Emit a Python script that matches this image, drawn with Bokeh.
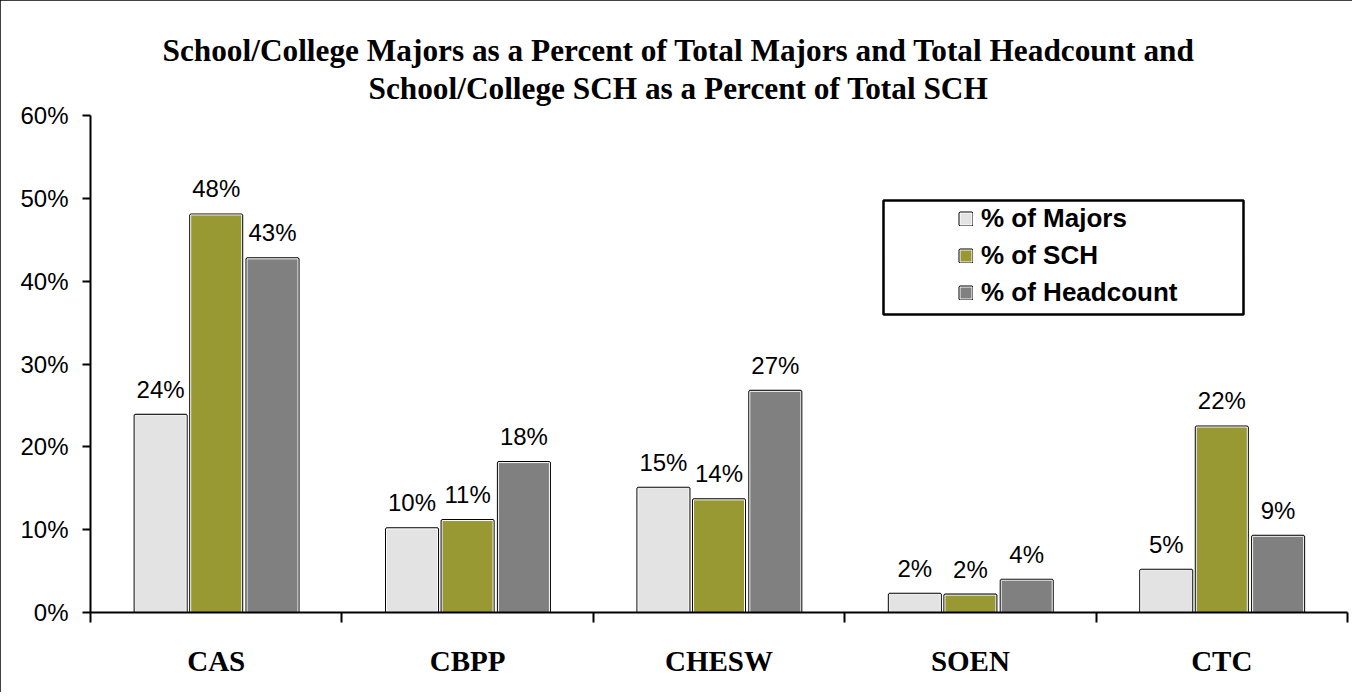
from bokeh.plotting import figure
from bokeh.models import (Range1d, FixedTicker, PrintfTickFormatter, Legend, LegendItem,
                          ColumnDataSource, Title, LinearAxis)
from bokeh.core.properties import value
from bokeh.embed import file_html
from bokeh.resources import INLINE

categories = ["CAS", "CBPP", "CHESW", "SOEN", "CTC"]
majors = [23.8, 10.1, 15.0, 2.2, 5.1]
sch = [48.0, 11.1, 13.6, 2.1, 22.4]
headcount = [42.7, 18.1, 26.7, 3.9, 9.2]
series_names = ["% of Majors", "% of SCH", "% of Headcount"]
series_colors = ["#E3E3E3", "#999933", "#808080"]
y_ticks = [0, 10, 20, 30, 40, 50, 60]
title_lines = ["School/College Majors as a Percent of Total Majors and Total Headcount and",
               "School/College SCH as a Percent of Total SCH"]

W, H = 1352, 692
FL, FT, FR, FB = 90, 115, 1347, 612          # frame edges in pixels
fw, fh = FR - FL, FB - FT

p = figure(width=W, height=H, output_backend="svg", toolbar_location=None,
           x_range=Range1d(0, 5), y_range=Range1d(0, 60),
           min_border_left=FL, min_border_right=W - FR, min_border_top=FT,
           min_border_bottom=H - FB, x_axis_type=None, y_axis_type=None)
p.outline_line_color = None
p.xgrid.visible = False
p.ygrid.visible = False
p.styles = {"outline": "3px solid black", "outline-offset": "-3px"}

# y axis
yax = LinearAxis(ticker=FixedTicker(ticks=y_ticks, minor_ticks=[]),
                 formatter=PrintfTickFormatter(format="%d%%"))
yax.axis_line_width = 2
yax.major_tick_line_width = 2
yax.major_tick_out = 8
yax.major_tick_in = 0
yax.major_label_standoff = 14
yax.major_label_text_font = "Liberation Sans"
yax.major_label_text_font_size = "24px"
yax.major_label_text_color = "black"
p.add_layout(yax, "left")

# x axis: labels at centers, ticks at boundaries (minor)
centers = [i + 0.5 for i in range(len(categories))]
xax = LinearAxis(ticker=FixedTicker(ticks=centers, minor_ticks=list(range(len(categories) + 1))))
xax.major_label_overrides = {c: name for c, name in zip(centers, categories)}
xax.axis_line_width = 2
xax.major_tick_line_color = None
xax.major_tick_out = 0
xax.major_tick_in = 0
xax.minor_tick_line_width = 2
xax.minor_tick_out = 10
xax.minor_tick_in = 0
xax.major_label_standoff = 22
xax.major_label_text_font = "Liberation Serif"
xax.major_label_text_font_style = "bold"
xax.major_label_text_font_size = "29px"
xax.major_label_text_color = "black"
p.add_layout(xax, "below")

offsets = [-0.221, 0.0, 0.224]
bar_w = 0.203
series = [majors, sch, headcount]
items = []
for vals, name, col, off in zip(series, series_names, series_colors, offsets):
    src = ColumnDataSource(dict(x=[c + off for c in centers], top=vals,
                                lab=[f"{v:.0f}%" for v in vals]))
    r_black = p.vbar(x="x", top="top", width=bar_w, bottom=0, source=src,
                     fill_color=None, line_color="black", line_width=3)
    r_fill = p.vbar(x="x", top="top", width=bar_w, bottom=0, source=src,
                    fill_color=col, line_color="white", line_width=1)
    p.text(x="x", y="top", text="lab", source=src, text_align="center",
           text_baseline="alphabetic", y_offset=-26,
           text_font=value("Liberation Sans"), text_font_size="24px", text_color="black")
    items.append(LegendItem(label=name, renderers=[r_black, r_fill]))

# legend frame box (pixel geometry converted to data units)
bx0, bx1, by0, by1 = 883 - FL, 1243 - FL, 200 - FT, 314 - FT
p.quad(left=bx0 * 5 / fw, right=bx1 * 5 / fw, top=60 - by0 * 60 / fh, bottom=60 - by1 * 60 / fh,
       fill_color=None, line_color="black", line_width=2.5)

legend = Legend(items=items, location=(868, 304), padding=0, margin=0,
                border_line_color=None, background_fill_alpha=0,
                glyph_width=15, glyph_height=15, label_height=29, spacing=6,
                label_standoff=8,
                label_text_font="Liberation Sans", label_text_font_style="bold",
                label_text_font_size="26px", label_text_color="black")
p.add_layout(legend, "center")

# title: second line first (nearest the frame)
p.add_layout(Title(text=title_lines[1], align="left", offset=368 - FL, standoff=20,
                   text_font="Liberation Serif", text_font_style="bold",
                   text_font_size="31.3px", text_color="black"), "above")
p.add_layout(Title(text=title_lines[0], align="left", offset=162 - FL, standoff=-18,
                   text_line_height=0.7,
                   text_font="Liberation Serif", text_font_style="bold",
                   text_font_size="31.3px", text_color="black"), "above")

open("out.html", "w").write(file_html(p, INLINE))
